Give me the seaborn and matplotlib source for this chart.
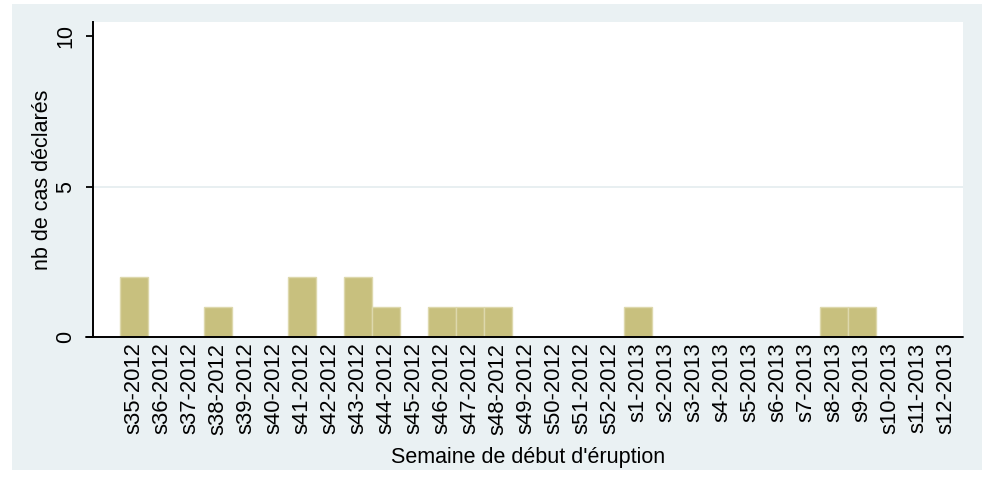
import pandas as pd
import seaborn as sns
import matplotlib.pyplot as plt
from matplotlib.patches import Rectangle

weeks = ["s35-2012", "s36-2012", "s37-2012", "s38-2012", "s39-2012", "s40-2012",
         "s41-2012", "s42-2012", "s43-2012", "s44-2012", "s45-2012", "s46-2012",
         "s47-2012", "s48-2012", "s49-2012", "s50-2012", "s51-2012", "s52-2012",
         "s1-2013", "s2-2013", "s3-2013", "s4-2013", "s5-2013", "s6-2013",
         "s7-2013", "s8-2013", "s9-2013", "s10-2013", "s11-2013", "s12-2013"]
cases = [2, 0, 0, 1, 0, 0,
         2, 0, 2, 1, 0, 1,
         1, 1, 0, 0, 0, 0,
         1, 0, 0, 0, 0, 0,
         0, 1, 1, 0, 0, 0]
yticks = [0, 5, 10]

df = pd.DataFrame({"semaine": weeks, "cas": cases})

sns.set_theme(style="white")
plt.rcParams['font.family'] = ['Liberation Sans', 'DejaVu Sans']
plt.rcParams['text.color'] = 'black'
plt.rcParams['axes.labelcolor'] = 'black'
plt.rcParams['xtick.color'] = 'black'
plt.rcParams['ytick.color'] = 'black'

W, H = 984, 484
fig = plt.figure(figsize=[W / 100, H / 100], dpi=100)
fig.patch.set_facecolor("white")

# light bluish graph region (Stata look)
fig.patches.append(Rectangle((12 / W, 1 - 470 / H), 970 / W, 466 / H,
                             transform=fig.transFigure, facecolor="#EAF1F3",
                             edgecolor="none", zorder=-5))

ax = fig.add_axes([93 / W, 1 - 337 / H, 870 / W, 315 / H])
ax.set_facecolor("white")

sns.barplot(data=df, x="semaine", y="cas", color="#C8C07E", saturation=1,
            width=1, edgecolor="#DDD8AC", linewidth=1, ax=ax, zorder=2)

ax.axhline(5, color="#E4ECEF", lw=1.2, zorder=0)
ax.set_xlim(-1.464, 29.61)
ax.set_ylim(0, 10.47)
ax.set_yticks(yticks)
ax.set_yticklabels([str(t) for t in yticks], rotation=90, va="center")

for s in ["top", "right"]:
    ax.spines[s].set_visible(False)
ax.spines["left"].set_color("black")
ax.spines["left"].set_linewidth(1.4)
ax.spines["bottom"].set_visible(False)
ax.axhline(0, xmin=-7 / 870, xmax=1, color="black", lw=1.4, clip_on=False, zorder=3)

ax.tick_params(axis="y", length=5, width=1.3, pad=7, labelsize=15.5, left=True)
ax.tick_params(axis="x", length=0, pad=4, labelsize=15.8, rotation=90)

ax.set_ylabel("nb de cas déclarés", fontsize=15.5, labelpad=2)
ax.set_xlabel("Semaine de début d'éruption", fontsize=15.5, labelpad=9)
ax.grid(False)

fig.savefig("out.png", dpi=100)
